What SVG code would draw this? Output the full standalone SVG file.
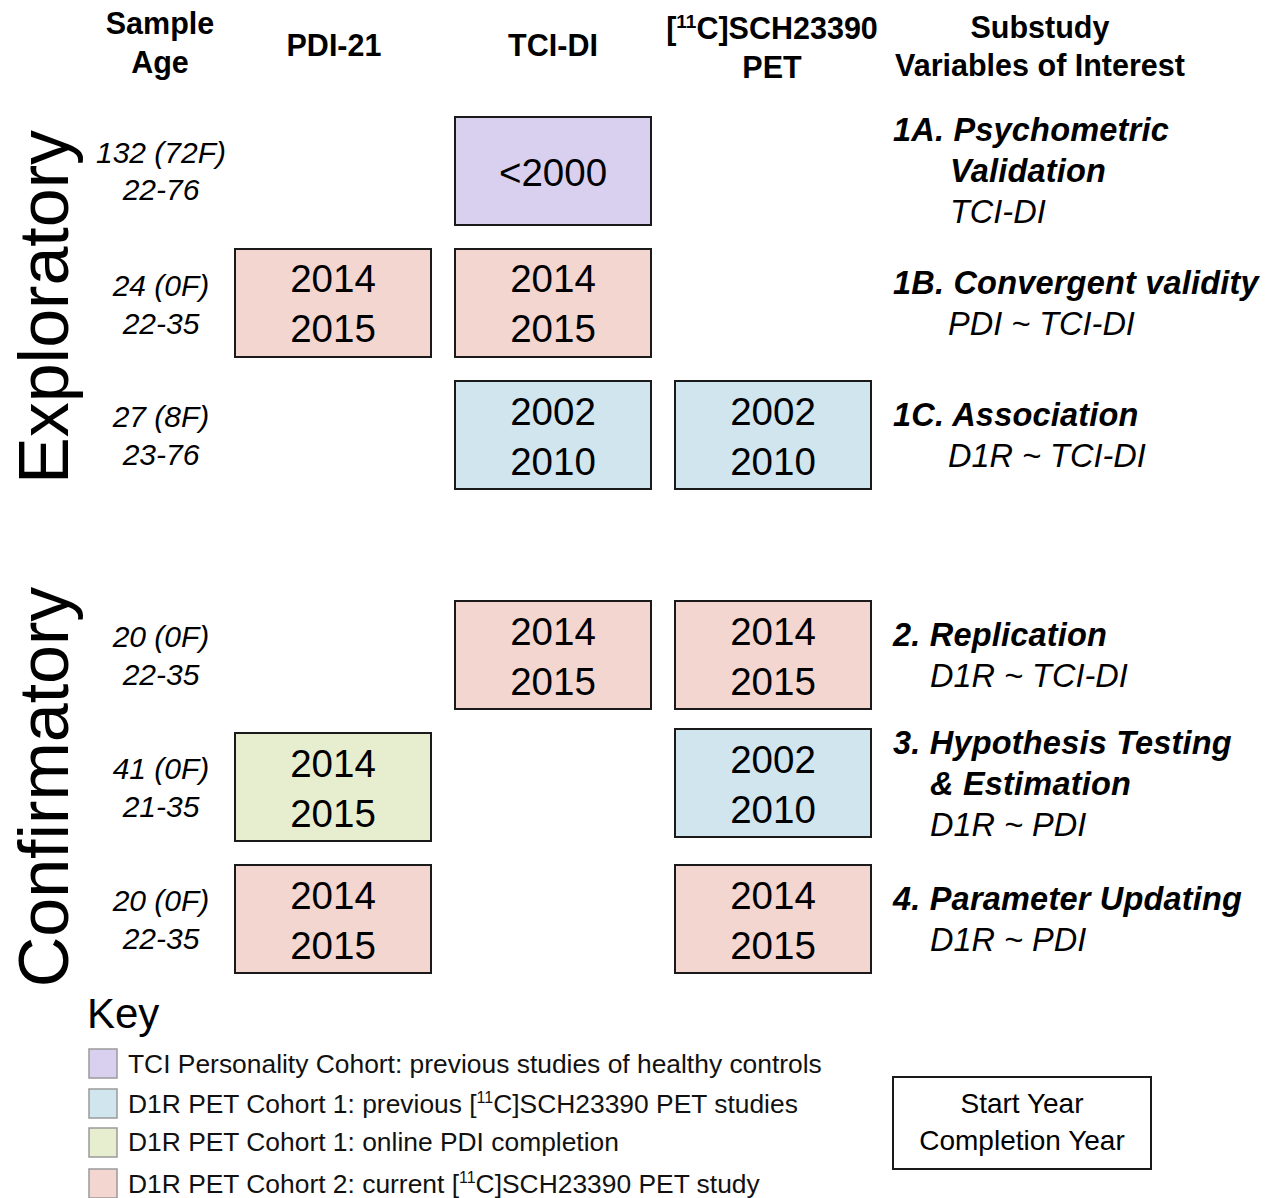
<svg xmlns="http://www.w3.org/2000/svg" width="1271" height="1198" viewBox="0 0 1271 1198">
<style>
text{font-family:"Liberation Sans",Arial,sans-serif;fill:#000}
.hd{font-size:30.5px;font-weight:bold;text-anchor:middle}
.age{font-size:30px;font-style:italic;text-anchor:middle}
.big{font-size:70px}
.yr{font-size:38.5px;text-anchor:middle}
.sb{font-size:32.5px;font-weight:bold;font-style:italic;letter-spacing:0.2px}
.si{font-size:32.5px;font-style:italic}
.key{font-size:26.4px;fill:#111}
.box{stroke:#1a1a1a;stroke-width:2}
.pur{fill:#d8d0ee}
.blu{fill:#d0e5ee}
.grn{fill:#e6eecf}
.pnk{fill:#f2d6cf}
.sw{stroke:#9a9a9a;stroke-width:1.5}
</style>
<rect width="1271" height="1198" fill="#fff"/>
<g id="headers">
<text class="hd" x="160" y="34">Sample</text>
<text class="hd" x="160" y="73">Age</text>
<text class="hd" x="334" y="56">PDI-21</text>
<text class="hd" x="553" y="56">TCI-DI</text>
<text class="hd" x="772" y="39">[<tspan font-size="19" dy="-11">11</tspan><tspan dy="11">C]SCH23390</tspan></text>
<text class="hd" x="772" y="78">PET</text>
<text class="hd" x="1040" y="38">Substudy</text>
<text class="hd" x="1040" y="76">Variables of Interest</text>
</g>
<g id="phase-labels">
<text class="big" text-anchor="middle" transform="translate(68,307) rotate(-90)">Exploratory</text>
<text class="big" text-anchor="middle" transform="translate(68,787) rotate(-90)">Confirmatory</text>
</g>
<g id="sample-ages">
<text class="age" x="161" y="163">132 (72F)</text>
<text class="age" x="161" y="200">22-76</text>
<text class="age" x="161" y="296">24 (0F)</text>
<text class="age" x="161" y="334">22-35</text>
<text class="age" x="161" y="427">27 (8F)</text>
<text class="age" x="161" y="465">23-76</text>
<text class="age" x="161" y="647">20 (0F)</text>
<text class="age" x="161" y="685">22-35</text>
<text class="age" x="161" y="779">41 (0F)</text>
<text class="age" x="161" y="817">21-35</text>
<text class="age" x="161" y="911">20 (0F)</text>
<text class="age" x="161" y="949">22-35</text>
</g>
<g id="box-1a-tci">
<rect class="box pur" x="455" y="117" width="196" height="108"/>
<text class="yr" x="553" y="186">&lt;2000</text>
</g>
<g id="box-1b-pdi">
<rect class="box pnk" x="235" y="249" width="196" height="108"/>
<text class="yr" x="333" y="292">2014</text>
<text class="yr" x="333" y="342">2015</text>
</g>
<g id="box-1b-tci">
<rect class="box pnk" x="455" y="249" width="196" height="108"/>
<text class="yr" x="553" y="292">2014</text>
<text class="yr" x="553" y="342">2015</text>
</g>
<g id="box-1c-tci">
<rect class="box blu" x="455" y="381" width="196" height="108"/>
<text class="yr" x="553" y="425">2002</text>
<text class="yr" x="553" y="475">2010</text>
</g>
<g id="box-1c-pet">
<rect class="box blu" x="675" y="381" width="196" height="108"/>
<text class="yr" x="773" y="425">2002</text>
<text class="yr" x="773" y="475">2010</text>
</g>
<g id="box-2-tci">
<rect class="box pnk" x="455" y="601" width="196" height="108"/>
<text class="yr" x="553" y="645">2014</text>
<text class="yr" x="553" y="695">2015</text>
</g>
<g id="box-2-pet">
<rect class="box pnk" x="675" y="601" width="196" height="108"/>
<text class="yr" x="773" y="645">2014</text>
<text class="yr" x="773" y="695">2015</text>
</g>
<g id="box-3-pdi">
<rect class="box grn" x="235" y="733" width="196" height="108"/>
<text class="yr" x="333" y="777">2014</text>
<text class="yr" x="333" y="827">2015</text>
</g>
<g id="box-3-pet">
<rect class="box blu" x="675" y="729" width="196" height="108"/>
<text class="yr" x="773" y="773">2002</text>
<text class="yr" x="773" y="823">2010</text>
</g>
<g id="box-4-pdi">
<rect class="box pnk" x="235" y="865" width="196" height="108"/>
<text class="yr" x="333" y="909">2014</text>
<text class="yr" x="333" y="959">2015</text>
</g>
<g id="box-4-pet">
<rect class="box pnk" x="675" y="865" width="196" height="108"/>
<text class="yr" x="773" y="909">2014</text>
<text class="yr" x="773" y="959">2015</text>
</g>
<g id="substudies">
<text class="sb" x="893" y="141">1A. Psychometric</text>
<text class="sb" x="950" y="182">Validation</text>
<text class="si" x="950" y="223">TCI-DI</text>
<text class="sb" x="893" y="294">1B. Convergent validity</text>
<text class="si" x="948" y="335">PDI ~ TCI-DI</text>
<text class="sb" x="893" y="426">1C. Association</text>
<text class="si" x="948" y="467">D1R ~ TCI-DI</text>
<text class="sb" x="893" y="646">2. Replication</text>
<text class="si" x="930" y="687">D1R ~ TCI-DI</text>
<text class="sb" x="893" y="754">3. Hypothesis Testing</text>
<text class="sb" x="930" y="795">&amp; Estimation</text>
<text class="si" x="930" y="836">D1R ~ PDI</text>
<text class="sb" x="893" y="910">4. Parameter Updating</text>
<text class="si" x="930" y="951">D1R ~ PDI</text>
</g>
<g id="key">
<text x="87" y="1028" font-size="42">Key</text>
<rect class="sw pur" x="89" y="1049" width="28" height="29"/>
<text class="key" x="128" y="1073">TCI Personality Cohort: previous studies of healthy controls</text>
<rect class="sw blu" x="89" y="1089" width="28" height="29"/>
<text class="key" x="128" y="1113">D1R PET Cohort 1: previous [<tspan font-size="16" dy="-10">11</tspan><tspan dy="10">C]SCH23390 PET studies</tspan></text>
<rect class="sw grn" x="89" y="1128" width="28" height="29"/>
<text class="key" x="128" y="1151">D1R PET Cohort 1: online PDI completion</text>
<rect class="sw pnk" x="89" y="1169" width="28" height="29"/>
<text class="key" x="128" y="1193">D1R PET Cohort 2: current [<tspan font-size="16" dy="-10">11</tspan><tspan dy="10">C]SCH23390 PET study</tspan></text>
</g>
<g id="key-legend-box">
<rect x="893" y="1077" width="258" height="92" fill="#fff" stroke="#1a1a1a" stroke-width="2"/>
<text x="1022" y="1113" font-size="28" text-anchor="middle">Start Year</text>
<text x="1022" y="1150" font-size="28" text-anchor="middle">Completion Year</text>
</g>
<g id="connectors"></g>
</svg>
